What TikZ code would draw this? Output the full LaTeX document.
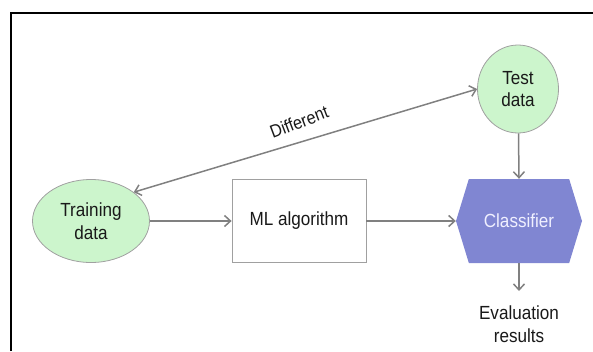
\documentclass[tikz,border=0pt]{standalone}
\usepackage{fontspec}
\setmainfont{Liberation Sans}[FakeStretch=0.9]
\usetikzlibrary{shapes.geometric,shapes.symbols,arrows.meta,shadows}
\definecolor{nodegreen}{RGB}{204,245,204}
\definecolor{edgegray}{RGB}{160,160,160}
\definecolor{arrowgray}{RGB}{128,128,128}
\definecolor{clsblue}{RGB}{128,134,210}
\begin{document}
\begin{tikzpicture}[x=1pt,y=-1pt,
  txt/.style={font=\fontsize{19}{22.5}\selectfont, align=center, text=black!90},
  datanode/.style={ellipse, draw=edgegray, line width=0.8pt, fill=nodegreen, inner sep=0pt, txt},
  boxnode/.style={rectangle, draw=edgegray, line width=0.8pt, fill=white, inner sep=0pt, txt,
    drop shadow={shadow xshift=0.8pt, shadow yshift=-0.8pt, opacity=0.35, fill=black!50}},
  hexnode/.style={signal, signal to=west and east, signal pointer angle=146, fill=clsblue, draw=none,
    inner sep=0pt, txt, text=white!94!blue},
  conn/.style={draw=arrowgray, line width=1.5pt, -{Straight Barb[length=6pt,width=11pt]}},
]
\useasboundingbox (0,0) rectangle (593,351);
% frame
\draw[line width=2.5pt, black] (11,351) -- (11,13) -- (593,13);

\node[datanode, minimum width=117, minimum height=83] (train) at (91,221) {Training\\data};
\node[datanode, minimum width=81, minimum height=88] (test) at (518,89) {Test\\data};
\node[boxnode, minimum width=134, minimum height=83] (ml) at (299,221) {ML algorithm};
\node[hexnode, minimum width=126, minimum height=84] (cls) at (519,221) {Classifier};
\node[txt, inner sep=0pt, anchor=north] (eval) at (519,306) {Evaluation\\results};

\draw[conn] (train) -- (ml);
\draw[conn] (ml) -- (cls.west);
\draw[conn] (test) -- (cls.north);
\draw[conn, shorten >=15pt] (cls.south) -- (eval.north);
\draw[conn, {Straight Barb[length=6pt,width=11pt]}-{Straight Barb[length=6pt,width=11pt]}] (train.34) -- (test.west)
  node[midway, sloped, above=9pt, rotate=4, font=\fontsize{18}{20}\selectfont, text=black!90] (lbl) {Different};
\end{tikzpicture}
\end{document}
